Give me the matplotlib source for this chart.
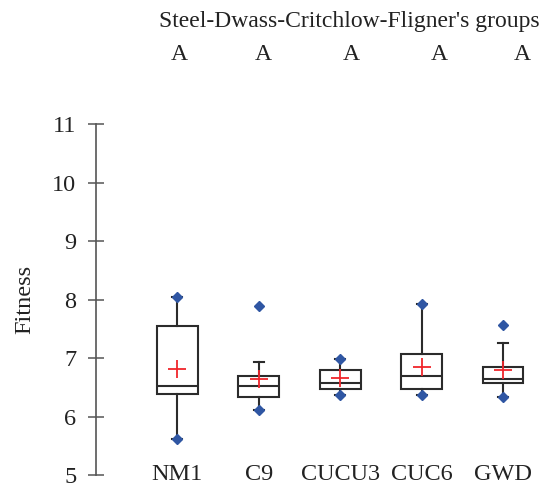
import matplotlib
matplotlib.use("Agg")
import matplotlib.pyplot as plt
import matplotlib.transforms as mtransforms

# Data
groups = ["NM1", "C9", "CUCU3", "CUC6", "GWD"]
letters = ["A", "A", "A", "A", "A"]
q1 = [6.39, 6.34, 6.47, 6.47, 6.58]
median = [6.53, 6.53, 6.58, 6.69, 6.64]
q3 = [7.54, 6.69, 6.79, 7.07, 6.85]
mean = [6.82, 6.64, 6.66, 6.85, 6.80]
minimum = [5.62, 6.11, 6.36, 6.36, 6.33]
maximum = [8.04, 7.89, 6.99, 7.92, 7.56]
upper_whisker = [8.04, 6.94, 6.99, 7.92, 7.26]
letter_pos = [1.03, 2.06, 3.14, 4.22, 5.24]

plt.rcParams["font.family"] = ["Liberation Serif", "DejaVu Serif"]

fig = plt.figure(figsize=(5.51, 4.92), dpi=100)
ax = fig.add_axes([0.174, 0.0346, 0.813, 0.713])

# Box statistics for bxp
stats = []
for i in range(len(groups)):
    stats.append({
        "label": groups[i],
        "q1": q1[i],
        "med": median[i],
        "q3": q3[i],
        "mean": mean[i],
        "whislo": minimum[i],
        "whishi": upper_whisker[i],
        "fliers": [],
    })

pos = list(range(1, len(groups) + 1))
dark = "#2b2b2b"
ax.bxp(stats, positions=pos, widths=0.5, showmeans=False, showfliers=False,
       patch_artist=True, capwidths=0.12,
       boxprops=dict(facecolor="white", edgecolor=dark, linewidth=1.5),
       medianprops=dict(color=dark, linewidth=1.5),
       whiskerprops=dict(color=dark, linewidth=1.5),
       capprops=dict(color=dark, linewidth=1.5))

# Minimum / maximum diamonds and the mean cross
ax.plot(pos, minimum, "D", color="#2f56a3", markersize=5.5, zorder=4)
ax.plot(pos, maximum, "D", color="#2f56a3", markersize=5.5, zorder=4)
ax.plot(pos, mean, "+", color="#f0252b", markersize=13, mew=1.3, zorder=5)

# Axes look
ax.set_xlim(0, 5.5)
ax.set_ylim(5, 11)
ax.set_yticks([5, 6, 7, 8, 9, 10, 11])
for s in ["top", "right", "bottom"]:
    ax.spines[s].set_visible(False)
ax.spines["left"].set_color("#555555")
ax.spines["left"].set_linewidth(1.2)
ax.tick_params(axis="y", direction="inout", length=12, width=1.1,
               color="#555555", labelsize=17.5, pad=8, labelcolor="#222222")
ax.set_xticks(pos)
ax.set_xticklabels(groups)
ax.tick_params(axis="x", length=0, pad=0, labelsize=17.5, labelcolor="#222222")
for lab in ax.get_xticklabels():
    lab.set_verticalalignment("center")
ax.set_ylabel("Fitness", fontsize=17.5, color="#222222", labelpad=12)

# Group letters above the plot
trans = mtransforms.blended_transform_factory(ax.transData, fig.transFigure)
for x, t in zip(letter_pos, letters):
    ax.text(x, 1 - 55 / 492, t, transform=trans, ha="center", va="center",
            fontsize=17, color="#222222")
fig.text(349 / 551, 1 - 22 / 492, "Steel-Dwass-Critchlow-Fligner's groups",
         ha="center", va="center", fontsize=17, color="#222222")

plt.savefig("out.png", dpi=100)
